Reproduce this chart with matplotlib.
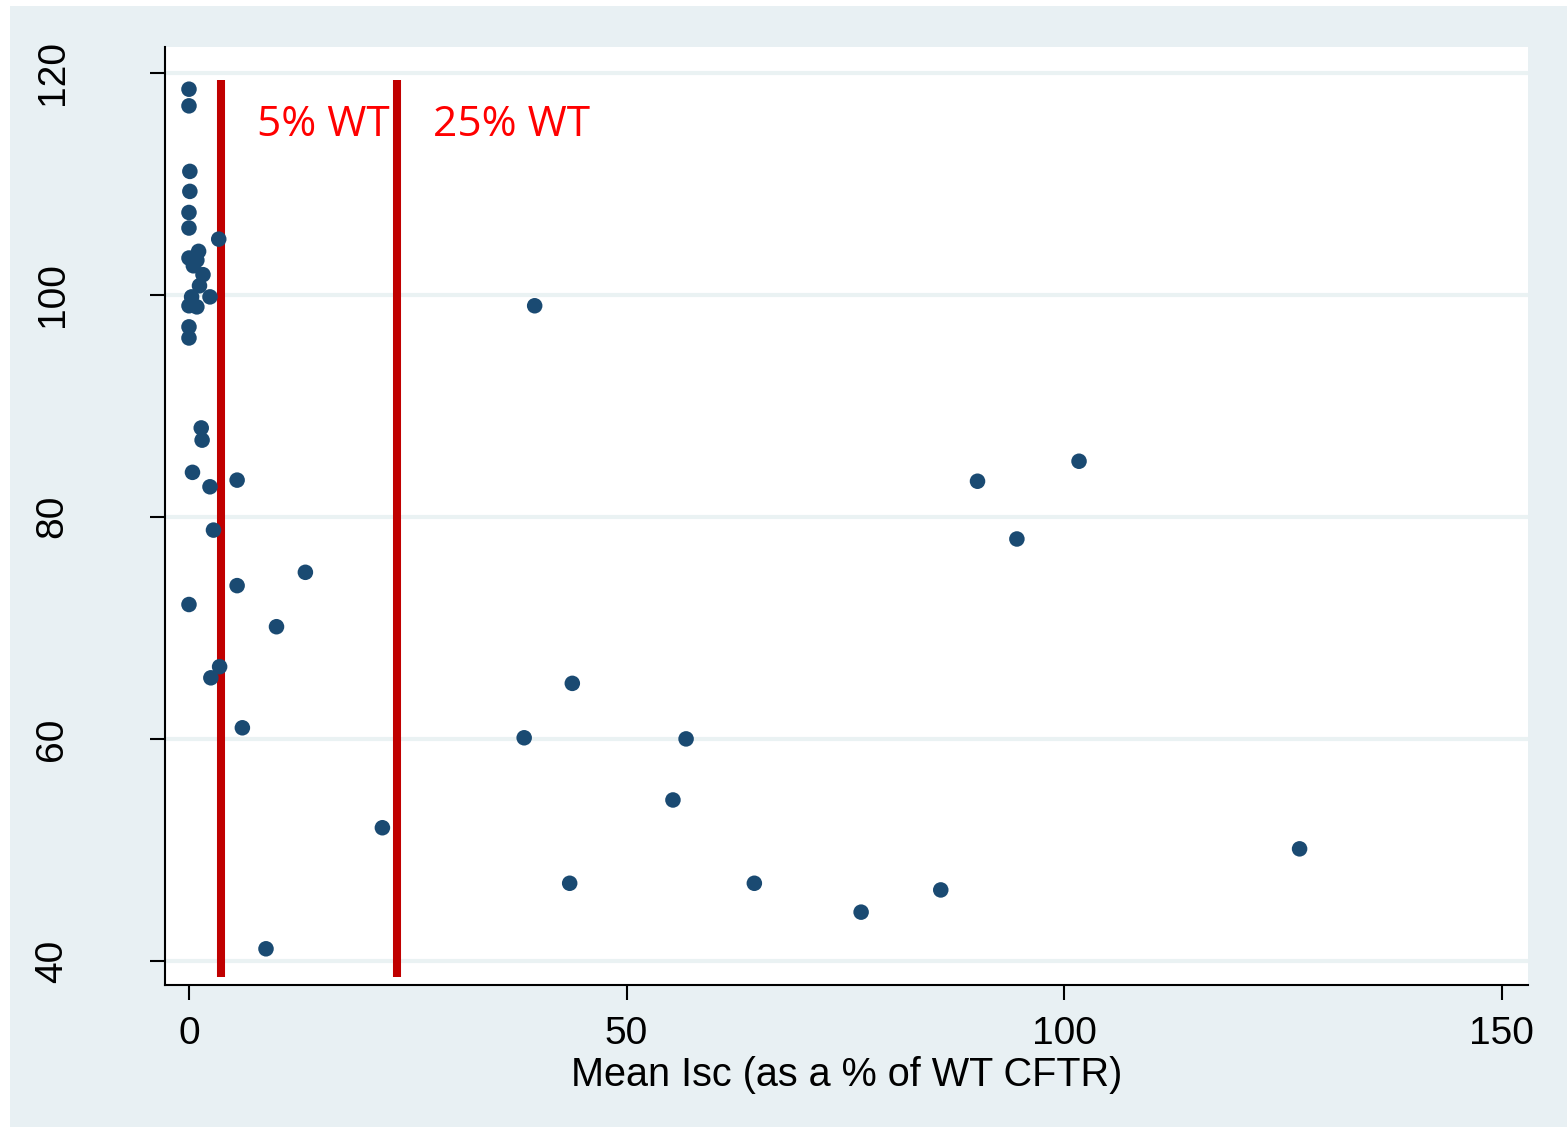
import matplotlib
matplotlib.use('Agg')
import matplotlib.pyplot as plt
from matplotlib.patches import Rectangle

# values
isc = [0.0, 0.0, 0.1, 0.1, 0.0, 0.0, 3.4, 1.1, 0.0, 0.9, 0.5, 1.6, 1.2, 2.4, 0.3,
       0.0, 0.9, 0.0, 0.0,
       1.4, 1.5, 0.4, 5.5, 2.4, 2.8, 13.3, 5.5, 0.0, 10.0, 3.5, 2.5,
       6.1, 22.1, 8.8, 39.5, 38.3, 43.8, 43.5, 56.8, 55.3, 64.6, 76.8, 85.9,
       90.1, 94.6, 101.7, 126.9]
fev1 = [118.5, 117.0, 111.1, 109.3, 107.4, 106.0, 105.0, 103.9, 103.3, 103.1, 102.6, 101.8, 100.8, 99.8, 99.8,
        99.0, 98.9, 97.1, 96.1,
        88.0, 86.9, 84.0, 83.3, 82.7, 78.8, 75.0, 73.8, 72.1, 70.1, 66.5, 65.5,
        61.0, 52.0, 41.1, 99.0, 60.1, 65.0, 47.0, 60.0, 54.5, 47.0, 44.4, 46.4,
        83.2, 78.0, 85.0, 50.1]

thresholds = [3.7, 23.8]
threshold_labels = ['5% WT', '25% WT']
label_x = [7.8, 27.9]
label_y = 114.3
line_span = (38.6, 119.3)

xticks = [0, 50, 100, 150]
yticks = [40, 60, 80, 100, 120]

bg = '#e8f0f3'
dot = '#1a4a72'

fig = plt.figure(figsize=(15.67, 11.33), dpi=100)
fig.patch.set_facecolor('white')
fig.add_artist(Rectangle((10/1567, 6/1133), 1 - 10/1567, 1 - 12/1133,
                         transform=fig.transFigure, facecolor=bg,
                         edgecolor='none', zorder=-10))

ax = fig.add_axes([165/1567, 1 - 985/1133, (1528-165)/1567, (985-47)/1133])
ax.set_facecolor('white')
ax.set_xlim(-2.74, 153.0)
ax.set_ylim(37.84, 122.3)

for s in ['top', 'right']:
    ax.spines[s].set_visible(False)
for s in ['left', 'bottom']:
    ax.spines[s].set_linewidth(1.5)

for yv in yticks:
    ax.axhline(yv, color='#eaf2f3', lw=3, zorder=1)

for xv in thresholds:
    ax.plot([xv, xv], line_span, color='#c00000', lw=5.8, zorder=2, solid_capstyle='butt')

ax.scatter(isc, fev1, s=125, color=dot, edgecolors='none', zorder=3)

for lab, xv in zip(threshold_labels, label_x):
    ax.text(xv, label_y, lab, color='#ff0000', fontsize=30.5,
            family='Open Sans', ha='left', va='baseline', zorder=4)

ax.set_xticks(xticks)
ax.set_yticks(yticks)
ax.set_xticklabels([str(v) for v in xticks], family='Liberation Sans', fontsize=28)
ax.set_yticklabels([str(v) for v in yticks], family='Liberation Sans', fontsize=28,
                   rotation=90, va='center')
ax.tick_params(axis='x', length=11, width=1.5, pad=11)
ax.tick_params(axis='y', length=11, width=1.5, pad=70)
for t in ax.get_yticklabels():
    t.set_ha('center')
ax.set_xlabel('Mean Isc (as a % of WT CFTR)', family='Liberation Sans', fontsize=28.5,
              labelpad=3)

fig.savefig('out.png', dpi=100, facecolor=fig.get_facecolor())
